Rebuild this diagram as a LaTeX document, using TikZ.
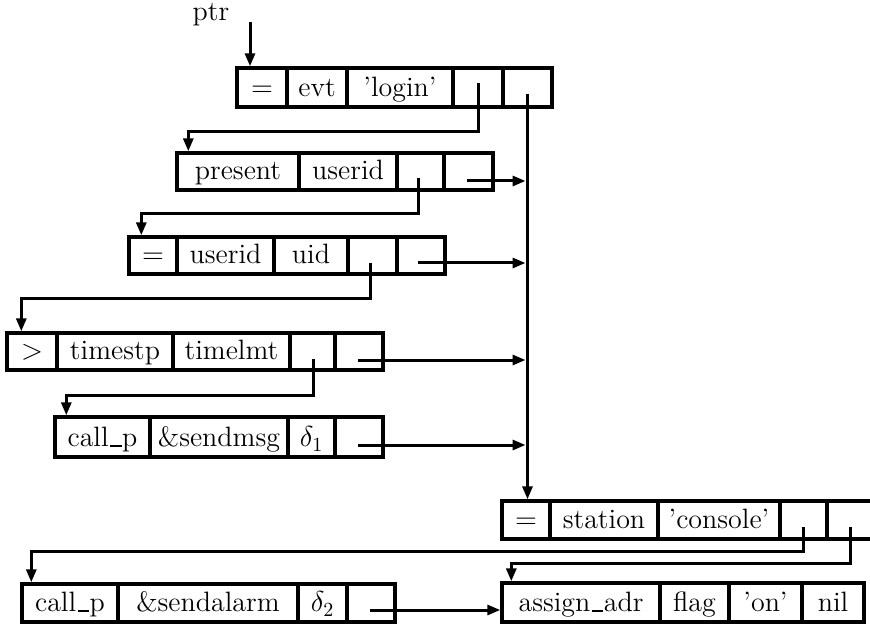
\documentclass[tikz,border=0pt]{standalone}
\usetikzlibrary{arrows.meta,calc,fit}
\newcommand\lowbar{\leavevmode\kern.06em\rule{.4em}{1pt}\kern.02em}
\newcommand\cell[6]{%
  \coordinate (#1nw) at (#2,#4);
  \coordinate (#1se) at (#3,#5);
  \node[cellbox, fit=(#1nw)(#1se)] (#1) {};
  \node[celltext] (#1t) at ($(#1.south)+(0,-12)$) {#6};
}
\newcommand\pcell[5]{%
  \coordinate (#1nw) at (#2,#4);
  \coordinate (#1se) at (#3,#5);
  \node[cellbox, fit=(#1nw)(#1se)] (#1) {};
}
\begin{document}
\begin{tikzpicture}[x=0.5pt,y=-0.5pt,
  cellbox/.style={draw, line width=1.7pt, inner sep=0pt, minimum size=0pt},
  celltext/.style={anchor=base, inner sep=0pt, font=\fontsize{14}{16}\selectfont},
  ptr/.style={line width=1.5pt, -{Triangle[length=6.5pt,width=5pt]}}]
\clip (0,0) rectangle (870,624);
% label
\node[celltext] (ptrlabel) at (211,21) {ptr};
\coordinate (ptrstart) at (250,22);
% record 1
\cell{a1}{237}{287}{68}{107}{$=$}
\cell{a2}{287}{347}{68}{107}{evt}
\cell{a3}{347}{453}{68}{107}{'login'}
\pcell{a4}{453}{503}{68}{107}
\pcell{a5}{503}{552}{68}{107}
% record 2
\cell{b1}{177}{299}{153}{190}{present}
\cell{b2}{299}{397}{153}{190}{userid}
\pcell{b3}{397}{444}{153}{190}
\pcell{b4}{444}{493}{153}{190}
% record 3
\cell{c1}{129}{177}{237}{274}{$=$}
\cell{c2}{177}{274}{237}{274}{userid}
\cell{c3}{274}{348}{237}{274}{uid}
\pcell{c4}{348}{397}{237}{274}
\pcell{c5}{397}{445}{237}{274}
% record 4
\cell{d1}{7}{57}{333}{370}{$>$}
\cell{d2}{57}{173}{333}{370}{timestp}
\cell{d3}{173}{290}{333}{370}{timelmt}
\pcell{d4}{290}{335}{333}{370}
\pcell{d5}{335}{383}{333}{370}
% record 5
\cell{e1}{55}{150}{417}{457}{call\lowbar p}
\cell{e2}{150}{288}{417}{457}{\&sendmsg}
\cell{e3}{288}{335}{417}{457}{$\delta_1$}
\pcell{e4}{335}{383}{417}{457}
% record 6
\cell{f1}{502}{550}{501}{539}{$=$}
\cell{f2}{550}{658}{501}{539}{station}
\cell{f3}{658}{780}{501}{539}{'console'}
\pcell{f4}{780}{827}{501}{539}
\pcell{f5}{827}{874}{501}{539}
% record 7
\cell{g1}{22}{118}{584}{622}{call\lowbar p}
\cell{g2}{118}{298}{584}{622}{\&sendalarm}
\cell{g3}{298}{347}{584}{622}{$\delta_2$}
\pcell{g4}{347}{395}{584}{622}
% record 8
\cell{h1}{502}{660}{583}{622}{assign\lowbar adr}
\cell{h2}{660}{729}{583}{622}{flag}
\cell{h3}{729}{802}{583}{622}{'on'}
\cell{h4}{802}{864}{583}{622}{nil}
% pointer start points
\coordinate (trunk) at ($(a5.center)+(0,6.5)$);
\coordinate (trunkend) at ($(trunk)+(-2,0)$);
\coordinate (pa4) at ($(a4.center)+(0,-4.5)$);
\coordinate (pb3) at ($(b3.center)+(-2,6.5)$);
\coordinate (pb4) at ($(b4.center)+(-2,9.5)$);
\coordinate (pc4) at ($(c4.center)+(-2,7.5)$);
\coordinate (pc5) at ($(c5.center)+(-3,7.5)$);
\coordinate (pd4) at ($(d4.center)+(1,7.5)$);
\coordinate (pd5) at ($(d5.center)+(-1,8.5)$);
\coordinate (pe4) at ($(e4.center)+(-1,8)$);
\coordinate (pf4) at ($(f4.center)+(0,7)$);
\coordinate (pf5) at ($(f5.center)+(0,7)$);
\coordinate (pg4) at ($(g4.center)+(-1,7)$);
% targets
\coordinate (tb1) at ($(b1.north west)+(13,0)$);
\coordinate (tc1) at ($(c1.north west)+(14,0)$);
\coordinate (td1) at ($(d1.north west)+(16,0)$);
\coordinate (te1) at ($(e1.north west)+(13,0)$);
\coordinate (tg1) at ($(g1.north west)+(11,0)$);
\coordinate (th1) at ($(h1.north west)+(11,0)$);
% connectors
\draw[ptr] (ptrstart) -- (ptrstart |- a1.north);
\draw[ptr] (pa4) -- ++(0,49) -| (tb1);
\draw[ptr] (trunk) -- (trunk |- f1.north);
\draw[ptr] (pb3) -- ++(0,36) -| (tc1);
\draw[ptr] (pb4) -- (pb4 -| trunkend);
\draw[ptr] (pc4) -- ++(0,36) -| (td1);
\draw[ptr] (pc5) -- (pc5 -| trunkend);
\draw[ptr] (pd4) -- ++(0,36) -| (te1);
\draw[ptr] (pd5) -- (pd5 -| trunkend);
\draw[ptr] (pe4) -- (pe4 -| trunkend);
\draw[ptr] (pf4) -- ++(0,24) -| (tg1);
\draw[ptr] (pf5) -- ++(0,36) -| (th1);
\draw[ptr] (pg4) -- (pg4 -| h1.west);
\end{tikzpicture}
\end{document}
